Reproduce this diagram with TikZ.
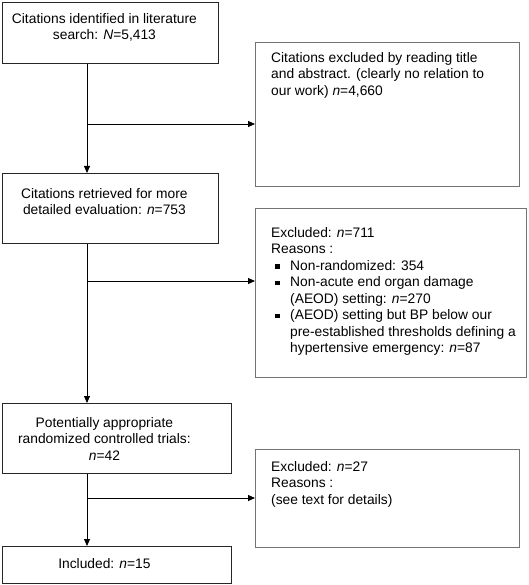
\documentclass[tikz,border=0pt]{standalone}
\usepackage{fontspec}
\setmainfont{Liberation Sans}
\usetikzlibrary{arrows.meta,positioning}
\newcommand{\sqbullet}{\makebox[19pt][l]{\hspace{4pt}\rule[1.6pt]{4.6pt}{4.6pt}}}
\newcommand{\hang}{\hspace*{19pt}}

\begin{document}
\begin{tikzpicture}[
    x=1pt,y=-1pt,
    box/.style={draw=black!85,line width=0.8pt,anchor=north west,inner sep=0pt},
    side/.style={box,draw=black!55,line width=1.1pt},
    txt/.style={inner sep=0pt,font=\fontsize{13.8}{16.5}\selectfont},
    mid/.style={txt,align=center},
    lft/.style={txt,align=left},
    arrow/.style={-{Triangle[length=7pt,width=6pt]},line width=0.8pt}
  ]
    \useasboundingbox (0,0) rectangle (528,585);
    % left column
    \node[box,minimum width=216pt,minimum height=61pt] (search) at (2,2) {};
    \node[box,minimum width=216pt,minimum height=70pt] (retr) at (2,173) {};
    \node[box,minimum width=229pt,minimum height=70pt] (rct) at (2,403) {};
    \node[box,minimum width=229pt,minimum height=37pt] (incl) at (2,546) {};
    % right column
    \node[side,minimum width=264pt,minimum height=144pt] (excl1) at (255,42) {};
    \node[side,minimum width=271pt,minimum height=169pt] (excl2) at (255,208) {};
    \node[side,minimum width=264pt,minimum height=98pt] (excl3) at (255,449) {};
    % texts
    \node[mid,below=11pt of search.north,xshift=-6pt] (search-t)
      {Citations identified in literature\\search: \textit{N}=5,413};
    \node[mid,below=15pt of retr.north,xshift=-6pt] (retr-t)
      {Citations retrieved for more\\detailed evaluation: \textit{n}=753};
    \node[mid,below=14pt of rct.north,xshift=-12.5pt] (rct-t)
      {Potentially appropriate\\randomized controlled trials:\\\textit{n}=42};
    \node[mid,below=12pt of incl.north,xshift=-12.5pt] (incl-t)
      {Included: \textit{n}=15};
    \node[lft,below right=10pt and 16pt of excl1.north west] (excl1-t)
      {Citations excluded by reading title\\and abstract. (clearly no relation to\\our work) \textit{n}=4,660};
    \node[lft,below right=19pt and 16pt of excl2.north west] (excl2-t)
      {Excluded: \textit{n}=711\\Reasons :\\
       \sqbullet Non-randomized: 354\\
       \sqbullet Non-acute end organ damage\\
       \hang (AEOD) setting: \textit{n}=270\\
       \sqbullet (AEOD) setting but BP below our\\
       \hang pre-established thresholds defining a\\
       \hang hypertensive emergency: \textit{n}=87};
    \node[lft,below right=12pt and 16pt of excl3.north west] (excl3-t)
      {Excluded: \textit{n}=27\\Reasons :\\(see text for details)};
    % split points on the trunk
    \coordinate (split1) at (87,124);
    \coordinate (split2) at (87,281);
    \coordinate (split3) at (87,498);
    \draw[arrow] (search.south -| split1) -- (retr.north -| split1);
    \draw[arrow] (retr.south -| split2) -- (rct.north -| split2);
    \draw[arrow] (rct.south -| split3) -- (incl.north -| split3);
    \draw[arrow] (split1) -- (split1 -| excl1.west);
    \draw[arrow] (split2) -- (split2 -| excl2.west);
    \draw[arrow] (split3) -- (split3 -| excl3.west);
  \end{tikzpicture}
\end{document}
